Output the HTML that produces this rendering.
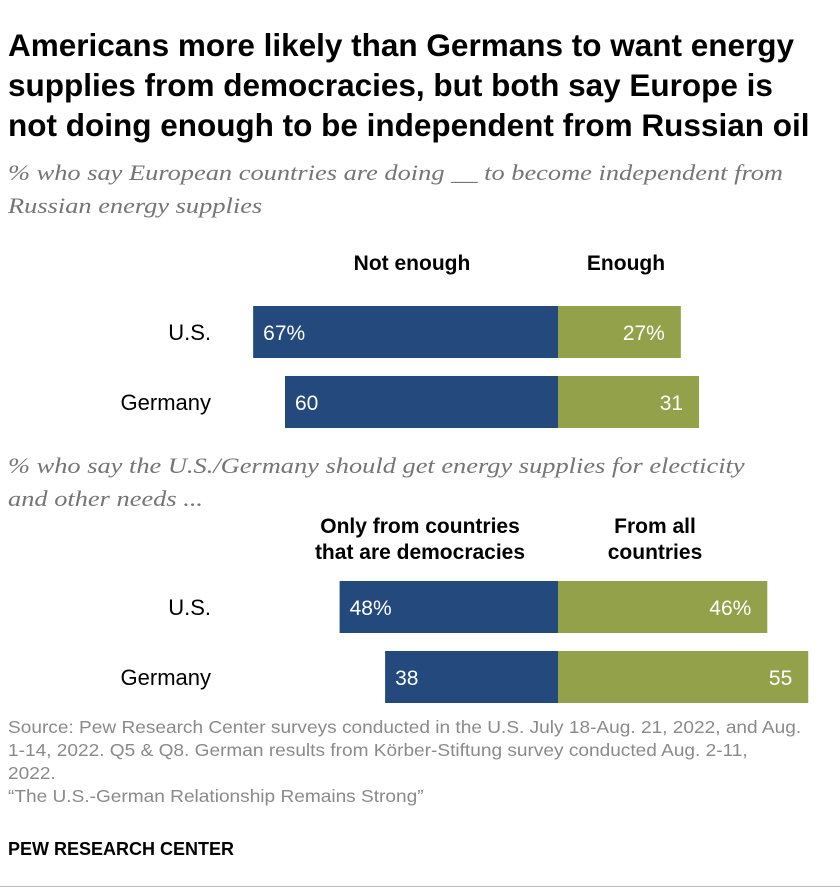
<!DOCTYPE html>
<html><head><meta charset="utf-8">
<style>
body{margin:0;width:840px;height:894px;background:#fff;position:relative;font-family:"Liberation Sans",sans-serif;overflow:hidden}
.t{position:absolute;white-space:nowrap}
#title{left:8px;top:25px;font-size:31.5px;font-weight:bold;line-height:40px;color:#000}
.sub{left:8px;font-family:"Liberation Serif",serif;font-style:italic;font-size:22px;line-height:33px;color:#757575;transform:scaleX(1.2);transform-origin:left top}
.hd{font-weight:bold;font-size:21px;line-height:26px;text-align:center;color:#000}
.src{left:8px;top:716px;font-size:17.5px;line-height:23px;color:#8a8a8a;transform:scaleX(1.09);transform-origin:left top}
</style></head><body>
<div class="t" id="title">Americans more likely than Germans to want energy<br>supplies from democracies, but both say Europe is<br>not doing enough to be independent from Russian oil</div>
<div class="t sub" style="top:156px">% who say European countries are doing __ to become independent from<br>Russian energy supplies</div>
<div class="t hd" style="left:332px;top:251px;width:160px">Not enough</div>
<div class="t hd" style="left:566px;top:251px;width:120px">Enough</div>
<div class="t sub" style="top:449px">% who say the U.S./Germany should get energy supplies for electicity<br>and other needs ...</div>
<div class="t hd" style="left:290px;top:514px;width:260px">Only from countries<br>that are democracies</div>
<div class="t hd" style="left:580px;top:514px;width:150px">From all<br>countries</div>
<svg id="chart" width="840" height="894" style="position:absolute;left:0;top:0"></svg>
<div class="t src">Source: Pew Research Center surveys conducted in the U.S. July 18-Aug. 21, 2022, and Aug.<br>1-14, 2022. Q5 &amp; Q8. German results from Körber-Stiftung survey conducted Aug. 2-11,<br>2022.<br>“The U.S.-German Relationship Remains Strong”</div>
<div class="t" style="left:8px;top:839px;font-size:18px;font-weight:bold;color:#000">PEW RESEARCH CENTER</div>
<div class="t" style="left:0;top:886px;width:840px;height:1px;background:#bbb"></div>
<script>
const categories=["U.S.","Germany"];
const notEnough=[67,60];
const enough=[27,31];
const onlyDemocracies=[48,38];
const allCountries=[46,55];
const svg=document.getElementById('chart');
const NS='http://www.w3.org/2000/svg';
const center=558, scale=4.55, bh=52;
function x(v){return v*scale;}
function add(tag,attrs){const e=document.createElementNS(NS,tag);for(const k in attrs)e.setAttribute(k,attrs[k]);svg.appendChild(e);return e;}
function group(ys,left,right,pct){
  categories.forEach((c,i)=>{
    const y=ys[i];
    const lab=add('text',{x:211,y:y+bh/2+8,'text-anchor':'end','font-size':22,fill:'#000'});
    lab.textContent=c;
    
    
    const b1=add('rect',{x:center-x(left[i]),y:y,width:x(left[i]),height:bh,fill:'#23497d'});
    
    
    const b2=add('rect',{x:center,y:y,width:x(right[i]),height:bh,fill:'#93a14a'});
    
    
    const t1=add('text',{x:center-x(left[i])+10,y:y+bh/2+8,'font-size':21,fill:'#fff'});
    t1.textContent=left[i]+(i===0&&pct?'%':'');
    
    
    const t2=add('text',{x:center+x(right[i])-16,y:y+bh/2+8,'font-size':21,fill:'#fff','text-anchor':'end'});
    t2.textContent=right[i]+(i===0&&pct?'%':'');
    
    
  });
}
group([306,376],notEnough,enough,true);
group([581,651],onlyDemocracies,allCountries,true);
</script>
</body></html>
